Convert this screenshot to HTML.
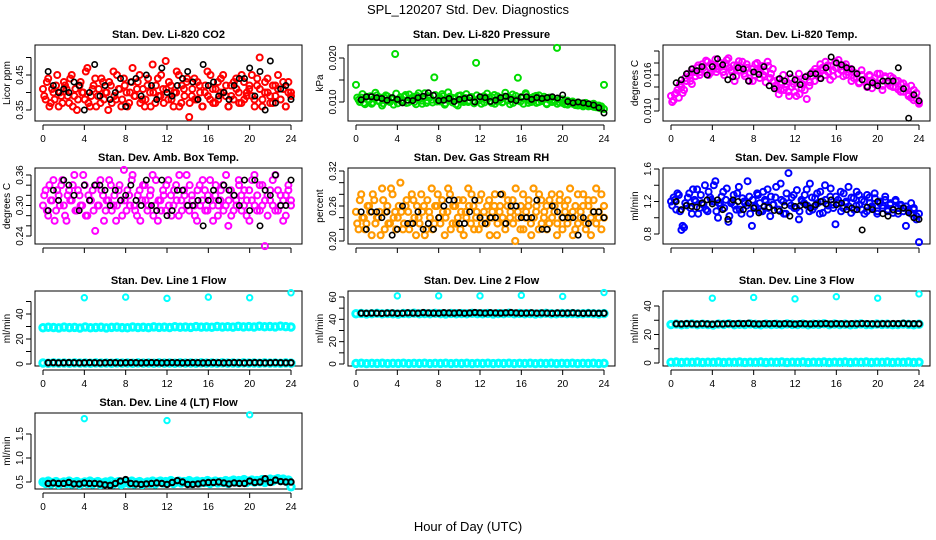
<!DOCTYPE html>
<html><head><meta charset="utf-8"><style>
body{margin:0;background:#fff}
svg{display:block;font-family:"Liberation Sans",sans-serif}
</style></head><body>
<svg id="c" width="936" height="540" viewBox="0 0 936 540">
<text x="468" y="14" text-anchor="middle" font-size="13">SPL_120207  Std. Dev. Diagnostics</text>
<text x="468" y="531" text-anchor="middle" font-size="13">Hour of Day (UTC)</text>
</svg>
<script>
const xTicks=[0,4,8,12,16,20,24];
const co2Red=[0.41,0.38,0.44,0.37,0.40,0.42,0.36,0.39,0.43,0.41,0.37,0.45,0.39,0.35,0.42,0.40,0.38,0.47,0.36,0.41,0.44,0.39,0.37,0.43,0.40,0.35,0.42,0.46,0.38,0.41,0.36,0.44,0.40,0.37,0.43,0.39,0.41,0.45,0.38,0.36,0.42,0.40,0.48,0.37,0.44,0.39,0.41,0.49,0.38,0.42,0.36,0.40,0.45,0.37,0.41,0.43,0.33,0.39,0.44,0.38,0.42,0.36,0.40,0.46,0.38,0.41,0.37,0.43,0.40,0.45,0.39,0.36,0.42,0.38,0.44,0.40,0.37,0.43,0.39,0.41,0.45,0.38,0.42,0.50,0.36,0.40,0.44,0.39,0.37,0.42,0.41,0.38,0.43,0.36,0.40,0.39];
const co2Red2=[0.39,0.43,0.36,0.41,0.38,0.45,0.40,0.37,0.42,0.39,0.44,0.36,0.41,0.38,0.43,0.40,0.46,0.37,0.39,0.42,0.36,0.41,0.44,0.38,0.40,0.43,0.37,0.39,0.45,0.41,0.38,0.42,0.36,0.40,0.47,0.39,0.43,0.37,0.41,0.38,0.44,0.36,0.40,0.42,0.39,0.45,0.37,0.41,0.43,0.38,0.40,0.46,0.36,0.42,0.39,0.44,0.37,0.41,0.38,0.43,0.40,0.36,0.42,0.39,0.45,0.37,0.41,0.38,0.44,0.40,0.42,0.36,0.39,0.43,0.41,0.37,0.45,0.38,0.40,0.42,0.39,0.36,0.44,0.41,0.38,0.43,0.40,0.37,0.42,0.39,0.45,0.38,0.41,0.36,0.43,0.40];
const co2Black=[0.46,0.42,0.40,0.41,0.40,0.43,0.42,0.35,0.40,0.48,0.39,0.42,0.38,0.40,0.44,0.36,0.43,0.44,0.39,0.45,0.42,0.38,0.47,0.40,0.39,0.42,0.44,0.46,0.43,0.38,0.48,0.42,0.43,0.39,0.40,0.38,0.42,0.44,0.44,0.47,0.39,0.46,0.35,0.49,0.37,0.41,0.42,0.38];
const presGreen=[0.0139,0.0105,0.0110,0.0098,0.0112,0.0104,0.0096,0.0108,0.0115,0.0101,0.0092,0.0109,0.0113,0.0100,0.0106,0.0209,0.0097,0.0111,0.0104,0.0116,0.0099,0.0107,0.0112,0.0095,0.0120,0.0103,0.0109,0.0098,0.0113,0.0105,0.0156,0.0101,0.0110,0.0118,0.0094,0.0106,0.0112,0.0099,0.0108,0.0092,0.0115,0.0104,0.0109,0.0100,0.0111,0.0103,0.0189,0.0107,0.0096,0.0113,0.0105,0.0110,0.0098,0.0116,0.0102,0.0108,0.0099,0.0112,0.0104,0.0095,0.0117,0.0106,0.0155,0.0101,0.0110,0.0120,0.0098,0.0109,0.0103,0.0114,0.0100,0.0107,0.0112,0.0097,0.0105,0.0110,0.0101,0.0223,0.0099,0.0106,0.0095,0.0103,0.0098,0.0101,0.0093,0.0099,0.0096,0.0090,0.0098,0.0094,0.0091,0.0096,0.0088,0.0092,0.0085,0.0139];
const presGreen2=[0.0110,0.0100,0.0118,0.0095,0.0106,0.0113,0.0099,0.0121,0.0103,0.0110,0.0097,0.0115,0.0104,0.0108,0.0094,0.0119,0.0106,0.0101,0.0112,0.0098,0.0117,0.0105,0.0100,0.0114,0.0107,0.0096,0.0120,0.0103,0.0110,0.0099,0.0116,0.0105,0.0101,0.0113,0.0097,0.0122,0.0104,0.0109,0.0095,0.0114,0.0106,0.0100,0.0118,0.0103,0.0111,0.0097,0.0115,0.0104,0.0108,0.0099,0.0119,0.0102,0.0110,0.0096,0.0113,0.0105,0.0100,0.0121,0.0104,0.0109,0.0098,0.0114,0.0103,0.0111,0.0096,0.0117,0.0105,0.0100,0.0112,0.0098,0.0115,0.0102,0.0107,0.0095,0.0110,0.0100,0.0104,0.0096,0.0106,0.0098,0.0102,0.0094,0.0100,0.0096,0.0098,0.0092,0.0097,0.0093,0.0095,0.0090,0.0094,0.0089,0.0092,0.0087,0.0090,0.0084];
const presBlack=[0.0105,0.0112,0.0112,0.0110,0.0108,0.0104,0.0110,0.0106,0.0098,0.0104,0.0103,0.0110,0.0113,0.0121,0.0115,0.0103,0.0104,0.0108,0.0101,0.0106,0.0108,0.0110,0.0100,0.0112,0.0110,0.0101,0.0104,0.0110,0.0113,0.0106,0.0103,0.0111,0.0112,0.0106,0.0110,0.0108,0.0110,0.0112,0.0109,0.0116,0.0101,0.0098,0.0100,0.0098,0.0096,0.0093,0.0087,0.0075];
const tempMag=[0.0125,0.0118,0.0130,0.0122,0.0140,0.0135,0.0150,0.0158,0.0145,0.0165,0.0172,0.0160,0.0178,0.0168,0.0182,0.0163,0.0175,0.0186,0.0170,0.0180,0.0165,0.0178,0.0188,0.0168,0.0176,0.0158,0.0183,0.0172,0.0162,0.0178,0.0150,0.0170,0.0160,0.0180,0.0155,0.0175,0.0166,0.0182,0.0155,0.0170,0.0142,0.0152,0.0135,0.0160,0.0140,0.0132,0.0155,0.0145,0.0125,0.0162,0.0138,0.0152,0.0120,0.0142,0.0158,0.0150,0.0165,0.0155,0.0172,0.0160,0.0176,0.0152,0.0168,0.0182,0.0162,0.0174,0.0158,0.0178,0.0165,0.0170,0.0155,0.0162,0.0146,0.0168,0.0150,0.0142,0.0160,0.0138,0.0155,0.0146,0.0162,0.0135,0.0158,0.0148,0.0142,0.0155,0.0140,0.0150,0.0132,0.0146,0.0138,0.0125,0.0142,0.0118,0.0130,0.0112];
const tempMag2=[0.0115,0.0128,0.0135,0.0145,0.0130,0.0155,0.0162,0.0150,0.0170,0.0158,0.0176,0.0165,0.0172,0.0184,0.0160,0.0178,0.0170,0.0165,0.0180,0.0174,0.0160,0.0185,0.0172,0.0165,0.0150,0.0176,0.0168,0.0182,0.0158,0.0172,0.0164,0.0150,0.0178,0.0165,0.0170,0.0160,0.0148,0.0175,0.0162,0.0150,0.0138,0.0128,0.0148,0.0135,0.0145,0.0125,0.0140,0.0132,0.0150,0.0128,0.0145,0.0135,0.0158,0.0148,0.0165,0.0170,0.0160,0.0178,0.0168,0.0182,0.0165,0.0175,0.0158,0.0172,0.0185,0.0168,0.0175,0.0160,0.0170,0.0150,0.0164,0.0156,0.0148,0.0160,0.0152,0.0140,0.0158,0.0150,0.0145,0.0162,0.0152,0.0142,0.0155,0.0146,0.0158,0.0140,0.0150,0.0136,0.0145,0.0132,0.0140,0.0128,0.0122,0.0135,0.0120,0.0115];
const tempBlack=[0.0147,0.0152,0.0162,0.0170,0.0167,0.0174,0.0160,0.0174,0.0187,0.0177,0.0152,0.0157,0.0172,0.0170,0.0150,0.0165,0.0161,0.0174,0.0142,0.0137,0.0154,0.0150,0.0162,0.0152,0.0144,0.0157,0.0162,0.0162,0.0154,0.0172,0.0190,0.0180,0.0177,0.0172,0.0170,0.0162,0.0152,0.0140,0.0147,0.0142,0.0150,0.0150,0.0150,0.0172,0.0137,0.0088,0.0127,0.0117];
const ambMag=[0.30,0.33,0.28,0.31,0.35,0.29,0.32,0.34,0.30,0.27,0.33,0.31,0.36,0.29,0.32,0.30,0.34,0.28,0.31,0.33,0.25,0.30,0.35,0.32,0.29,0.31,0.34,0.30,0.27,0.33,0.31,0.37,0.29,0.32,0.35,0.30,0.28,0.33,0.31,0.34,0.29,0.32,0.36,0.30,0.27,0.31,0.33,0.29,0.35,0.32,0.30,0.34,0.28,0.31,0.33,0.36,0.29,0.32,0.30,0.27,0.34,0.31,0.33,0.29,0.35,0.30,0.32,0.28,0.31,0.34,0.30,0.26,0.33,0.29,0.31,0.35,0.32,0.30,0.28,0.33,0.31,0.36,0.29,0.34,0.30,0.22,0.32,0.31,0.35,0.29,0.33,0.30,0.27,0.32,0.34,0.30];
const ambMag2=[0.32,0.29,0.34,0.31,0.27,0.33,0.30,0.35,0.28,0.32,0.31,0.34,0.29,0.33,0.30,0.36,0.28,0.32,0.31,0.29,0.34,0.30,0.33,0.27,0.31,0.35,0.29,0.32,0.30,0.34,0.28,0.31,0.33,0.30,0.36,0.29,0.32,0.27,0.34,0.31,0.30,0.33,0.28,0.35,0.31,0.29,0.32,0.34,0.30,0.28,0.33,0.31,0.36,0.29,0.32,0.30,0.34,0.31,0.28,0.33,0.30,0.35,0.29,0.32,0.31,0.27,0.34,0.30,0.33,0.29,0.36,0.31,0.28,0.32,0.30,0.34,0.29,0.33,0.31,0.27,0.35,0.30,0.32,0.29,0.34,0.31,0.28,0.33,0.30,0.36,0.29,0.32,0.31,0.28,0.33,0.31];
const ambBlack=[0.29,0.33,0.31,0.35,0.34,0.32,0.29,0.34,0.31,0.34,0.34,0.33,0.30,0.33,0.31,0.32,0.34,0.31,0.30,0.35,0.30,0.29,0.35,0.28,0.29,0.33,0.33,0.30,0.30,0.31,0.26,0.31,0.33,0.31,0.34,0.33,0.32,0.30,0.35,0.29,0.35,0.26,0.33,0.32,0.36,0.30,0.30,0.35];
const rhOrange=[0.25,0.22,0.28,0.24,0.23,0.26,0.21,0.27,0.24,0.25,0.29,0.22,0.26,0.23,0.28,0.25,0.24,0.30,0.22,0.26,0.25,0.23,0.27,0.21,0.24,0.28,0.26,0.22,0.25,0.29,0.23,0.26,0.24,0.27,0.21,0.25,0.28,0.23,0.26,0.24,0.22,0.27,0.25,0.29,0.23,0.26,0.24,0.22,0.28,0.25,0.23,0.27,0.24,0.26,0.21,0.25,0.28,0.23,0.26,0.24,0.27,0.20,0.25,0.22,0.28,0.24,0.26,0.23,0.29,0.25,0.22,0.27,0.24,0.26,0.23,0.28,0.25,0.21,0.27,0.24,0.26,0.23,0.29,0.25,0.22,0.28,0.24,0.26,0.23,0.27,0.21,0.25,0.29,0.24,0.22,0.26];
const rhOrange2=[0.23,0.27,0.24,0.22,0.26,0.25,0.28,0.23,0.24,0.21,0.27,0.25,0.23,0.29,0.24,0.22,0.26,0.25,0.23,0.27,0.22,0.28,0.24,0.26,0.23,0.25,0.21,0.27,0.24,0.22,0.26,0.28,0.23,0.25,0.24,0.29,0.22,0.26,0.23,0.27,0.25,0.21,0.24,0.26,0.28,0.22,0.25,0.27,0.23,0.24,0.26,0.21,0.25,0.28,0.23,0.26,0.24,0.22,0.27,0.25,0.23,0.29,0.24,0.26,0.22,0.25,0.27,0.21,0.24,0.26,0.28,0.23,0.25,0.22,0.27,0.24,0.26,0.23,0.28,0.22,0.25,0.27,0.24,0.21,0.26,0.23,0.25,0.28,0.22,0.26,0.24,0.27,0.23,0.25,0.28,0.24];
const rhBlack=[0.25,0.22,0.25,0.25,0.24,0.25,0.21,0.22,0.26,0.23,0.23,0.25,0.22,0.23,0.22,0.24,0.26,0.27,0.27,0.23,0.23,0.25,0.27,0.24,0.23,0.24,0.24,0.28,0.23,0.26,0.26,0.24,0.24,0.24,0.27,0.22,0.22,0.26,0.25,0.24,0.24,0.24,0.21,0.24,0.23,0.25,0.25,0.24];
const flowBlue=[1.20,1.25,1.10,1.28,0.85,0.88,1.15,1.30,1.05,1.22,1.35,1.12,1.18,1.40,1.08,1.25,1.20,1.45,1.00,1.15,1.32,1.22,0.95,1.18,1.28,1.10,1.38,1.05,1.20,1.15,1.26,0.90,1.12,1.30,1.18,1.08,1.22,1.35,1.02,1.16,1.25,1.10,1.42,1.20,1.05,1.55,1.15,1.28,1.12,0.98,1.22,1.18,1.35,1.08,1.25,1.14,1.30,1.05,1.20,1.40,1.10,1.26,1.16,0.92,1.22,1.32,1.12,1.18,1.38,1.06,1.24,1.15,1.28,1.10,1.20,1.08,1.25,1.14,1.30,1.05,1.18,1.12,1.22,1.08,1.16,1.10,1.20,1.05,1.15,1.12,0.90,1.08,1.18,1.10,1.02,0.70];
const flowBlue2=[1.15,1.22,1.30,1.08,0.90,1.18,1.25,1.12,1.35,1.20,1.05,1.28,1.16,1.10,1.32,1.22,1.40,1.08,1.18,1.26,1.12,1.36,1.02,1.20,1.15,1.30,1.10,1.24,1.18,1.45,1.05,1.22,1.14,1.28,1.08,1.32,1.20,1.12,1.26,1.16,1.38,1.10,1.22,1.05,1.30,1.18,1.25,1.12,1.34,1.08,1.20,1.28,1.15,1.42,1.10,1.24,1.18,1.32,1.06,1.22,1.15,1.36,1.12,1.26,1.18,1.08,1.30,1.20,1.14,1.25,1.10,1.32,1.16,1.22,1.05,1.28,1.18,1.12,1.24,1.08,1.20,1.15,1.26,1.10,1.18,1.06,1.22,1.12,1.16,1.08,1.14,1.10,1.05,1.12,0.98,1.05];
const flowBlack=[1.20,1.10,1.15,1.14,1.13,1.18,1.22,1.17,1.22,1.10,0.98,1.22,1.20,1.10,1.18,1.12,1.06,1.14,1.13,1.09,1.08,1.15,1.02,1.14,1.15,1.16,1.12,1.16,1.20,1.17,1.22,1.16,1.18,1.10,1.12,1.10,0.85,1.13,1.10,1.20,1.05,1.02,1.10,1.08,1.12,1.06,1.00,0.98];
const line1High=[29.0,29.4,29.2,28.9,29.5,29.1,29.3,28.8,29.6,29.0,29.2,29.4,28.9,29.3,29.5,29.1,29.0,29.6,29.2,29.4,29.1,29.7,29.3,29.5,29.2,29.8,29.4,29.6,29.3,29.9,29.5,29.7,29.4,30.0,29.6,29.8,29.5,30.1,29.7,29.9,29.6,30.2,29.8,30.0,29.7,30.3,29.9,29.6];
const line1Low=[0.8,0.6,0.9,0.7,0.8,0.6,0.9,0.7,0.8,0.6,0.9,0.7,0.8,0.6,0.9,0.7,0.8,0.6,0.9,0.7,0.8,0.6,0.9,0.7,0.8,0.6,0.9,0.7,0.8,0.6,0.9,0.7,0.8,0.6,0.9,0.7,0.8,0.6,0.9,0.7,0.8,0.6,0.9,0.7,0.8,0.6,0.9,0.7];
const line1Black=[1.0,1.1,0.9,1.0,1.1,1.0,0.9,1.0,1.1,1.0,0.9,1.0,1.1,1.0,0.9,1.0,1.1,1.0,0.9,1.0,1.1,1.0,0.9,1.0,1.1,1.0,0.9,1.0,1.1,1.0,0.9,1.0,1.1,1.0,0.9,1.0,1.1,1.0,0.9,1.0,1.1,1.0,0.9,1.0,1.1,1.0,0.9,1.0];
const line2High=[45.0,45.3,44.8,45.1,45.4,44.9,45.2,45.0,44.7,45.3,45.1,45.5,44.9,45.2,45.0,45.4,45.1,44.8,45.3,45.0,45.2,44.9,45.4,45.1,45.0,45.3,44.8,45.2,45.1,45.5,44.9,45.3,45.0,45.2,44.8,45.1,45.4,45.0,44.9,45.3,45.1,45.2,44.9,45.0,45.3,45.1,44.8,45.2];
const line2Low=[0.5,0.7,0.4,0.6,0.5,0.7,0.4,0.6,0.5,0.7,0.4,0.6,0.5,0.7,0.4,0.6,0.5,0.7,0.4,0.6,0.5,0.7,0.4,0.6,0.5,0.7,0.4,0.6,0.5,0.7,0.4,0.6,0.5,0.7,0.4,0.6,0.5,0.7,0.4,0.6,0.5,0.7,0.4,0.6,0.5,0.7,0.4,0.6];
const line2Black=[45.5,45.4,45.6,45.5,45.3,45.6,45.7,45.4,45.5,45.8,45.6,45.5,46.0,45.7,45.6,45.5,45.9,45.7,45.6,45.8,45.5,45.7,46.1,45.8,45.6,45.9,45.7,45.6,45.8,46.0,45.7,45.5,45.6,45.8,45.5,45.7,45.6,45.4,45.7,45.5,45.6,45.8,45.5,45.4,45.6,45.5,45.4,45.5];
const line3High=[27.0,27.3,26.8,27.1,27.4,26.9,27.2,27.0,26.7,27.3,27.1,27.5,26.9,27.2,27.0,27.4,27.1,26.8,27.3,27.0,27.2,26.9,27.4,27.1,27.0,27.3,26.8,27.2,27.1,27.5,26.9,27.3,27.0,27.2,26.8,27.1,27.4,27.0,26.9,27.3,27.1,27.2,26.9,27.0,27.3,27.1,26.8,27.2];
const line3Low=[0.5,0.7,0.4,0.6,0.5,0.7,0.4,0.6,0.5,0.7,0.4,0.6,0.5,0.7,0.4,0.6,0.5,0.7,0.4,0.6,0.5,0.7,0.4,0.6,0.5,0.7,0.4,0.6,0.5,0.7,0.4,0.6,0.5,0.7,0.4,0.6,0.5,0.7,0.4,0.6,0.5,0.7,0.4,0.6,0.5,0.7,0.4,0.6];
const line3Black=[27.5,27.4,27.6,27.5,27.3,27.6,27.4,27.2,27.5,27.4,27.6,27.5,27.7,27.6,27.8,27.5,27.4,27.6,27.5,27.7,27.4,27.6,27.5,27.3,27.6,27.5,27.4,27.6,27.5,27.7,27.4,27.6,27.5,27.4,27.6,27.5,27.7,27.6,27.5,27.4,27.6,27.5,27.7,27.6,27.8,27.5,27.6,27.5];
const line4Cyan=[0.50,0.47,0.52,0.46,0.49,0.51,0.45,0.48,0.50,0.47,0.52,0.46,0.49,0.51,0.45,0.48,0.50,0.47,0.52,0.46,0.49,0.51,0.45,0.48,0.50,0.47,0.52,0.46,0.49,0.51,0.45,0.48,0.50,0.47,0.52,0.46,0.49,0.51,0.45,0.48,0.50,0.47,0.52,0.46,0.50,0.52,0.48,0.51,0.49,0.53,0.47,0.50,0.52,0.48,0.51,0.49,0.53,0.47,0.50,0.52,0.48,0.51,0.49,0.53,0.47,0.50,0.52,0.48,0.51,0.49,0.53,0.47,0.52,0.54,0.50,0.53,0.51,0.55,0.49,0.52,0.54,0.50,0.53,0.51,0.55,0.49,0.53,0.56,0.52,0.55,0.57,0.53,0.56,0.52,0.54,0.40];
const line4Black=[0.47,0.48,0.47,0.47,0.49,0.46,0.46,0.48,0.47,0.47,0.46,0.44,0.43,0.47,0.52,0.55,0.47,0.46,0.45,0.46,0.47,0.48,0.47,0.45,0.49,0.53,0.50,0.45,0.45,0.46,0.48,0.49,0.49,0.50,0.48,0.46,0.48,0.47,0.47,0.52,0.49,0.50,0.57,0.49,0.54,0.51,0.50,0.50];
const outlierHours=[4,8,12,16,20,24];
const line1Out=[53,53.5,52.5,53.5,53,57];
const line2Out=[61,61,61,61.5,60.5,64];
const line3Out=[45.5,46,45,46.5,45.5,48.5];
const line4OutHours=[4,12,20];
const line4Out=[1.82,1.78,1.90];

const NS="http://www.w3.org/2000/svg";
const svg=document.getElementById('c');
function mk(tag,attrs,parent){const e=document.createElementNS(NS,tag);for(const k in attrs)e.setAttribute(k,attrs[k]);(parent||svg).appendChild(e);return e;}
const cols=[35,348,663], rows=[45,168,291,413], W=267;
function panel(o){
  const bx=cols[o.c], by=rows[o.r], bh=(o.r===2?75:76);
  const g=mk('g',{});
  
  
  const sx=h=>bx+8+h*(248/24);
  const sy=v=>o.y1+(v-o.v1)*(o.y2-o.y1)/(o.v2-o.v1);
  const t=mk('text',{x:bx+W/2,y:by-7,'text-anchor':'middle','font-size':'11','font-weight':'bold'},g);
  t.textContent=o.title;
  
  
  const fr=mk('rect',{x:bx,y:by,width:W,height:bh,fill:'none',stroke:'#000','stroke-width':1},g);
  
  
  mk('line',{x1:sx(0),x2:sx(24),y1:by+bh+4,y2:by+bh+4,stroke:'#000'},g);
  xTicks.forEach(h=>{
    mk('line',{x1:sx(h),x2:sx(h),y1:by+bh+4,y2:by+bh+9,stroke:'#000'},g);
    if(o.xlab){
      const l=mk('text',{x:sx(h),y:by+bh+21,'text-anchor':'middle','font-size':'10'},g);
      l.textContent=h;
      
      
    }
  });
  const yt=o.ticks.filter(v=>sy(v)>=by-1&&sy(v)<=by+bh+1);
  mk('line',{x1:bx-4,x2:bx-4,y1:sy(yt[0]),y2:sy(yt[yt.length-1]),stroke:'#000'},g);
  yt.forEach(v=>mk('line',{x1:bx-9,x2:bx-4,y1:sy(v),y2:sy(v),stroke:'#000'},g));
  o.labels.forEach(v=>{
    const y=sy(v);
    const l=mk('text',{x:bx-12,y:y,'text-anchor':'middle','font-size':'10',transform:`rotate(-90 ${bx-12} ${y})`},g);
    l.textContent=o.fmt(v);
    
    
  });
  const yl=by+bh/2;
  const ylab=mk('text',{x:bx-25,y:yl,'text-anchor':'middle','font-size':'10',transform:`rotate(-90 ${bx-25} ${yl})`},g);
  ylab.textContent=o.ylab;
  
  
  o.series.forEach(s=>{
    const sg=mk('g',{fill:'none',stroke:s.color,'stroke-width':s.sw||1.6},g);
    
    
    s.vals.forEach((v,i)=>{
      const h=s.hours?s.hours[i]:(s.start+i*(24-s.start)/(s.vals.length-1));
      const c=mk('circle',{cx:sx(h),cy:sy(v),r:s.r||2.7},sg);
      
      
    });
  });
}
const f2=v=>v.toFixed(2), f3=v=>v.toFixed(3), f1=v=>v.toFixed(1), f0=v=>String(v);
const rng=(a,b,s)=>{const r=[];for(let v=a;v<=b+1e-9;v+=s)r.push(+v.toFixed(4));return r;};
panel({name:'panel-co2',c:0,r:0,title:'Stan. Dev. Li-820 CO2',ylab:'Licor ppm',v1:0.35,y1:110,v2:0.45,y2:75,ticks:rng(0.30,0.50,0.05),labels:[0.35,0.45],fmt:f2,xlab:true,
 series:[{name:'co2-red-series',vals:co2Red,color:'#f00',start:0,r:3,sw:2},{name:'co2-red-series-2',vals:co2Red2,color:'#f00',start:0.12,r:3,sw:2},{name:'co2-black-series',vals:co2Black,color:'#000',start:0.5}]});
panel({name:'panel-pressure',c:1,r:0,title:'Stan. Dev. Li-820 Pressure',ylab:'kPa',v1:0.010,y1:102,v2:0.020,y2:58,ticks:rng(0.005,0.025,0.005),labels:[0.010,0.020],fmt:f3,xlab:true,
 series:[{name:'pressure-green-series',vals:presGreen,color:'#0d0',start:0,r:3,sw:2},{name:'pressure-green-series-2',vals:presGreen2,color:'#0d0',start:0.12,r:3,sw:2},{name:'pressure-black-series',vals:presBlack,color:'#000',start:0.5}]});
panel({name:'panel-temp',c:2,r:0,title:'Stan. Dev. Li-820 Temp.',ylab:'degrees C',v1:0.010,y1:111,v2:0.016,y2:75,ticks:rng(0.008,0.022,0.002),labels:[0.010,0.016],fmt:f3,xlab:true,
 series:[{name:'temp-magenta-series',vals:tempMag,color:'#f0f',start:0,r:3,sw:2},{name:'temp-magenta-series-2',vals:tempMag2,color:'#f0f',start:0.12,r:3,sw:2},{name:'temp-black-series',vals:tempBlack,color:'#000',start:0.5}]});
panel({name:'panel-amb-box-temp',c:0,r:1,title:'Stan. Dev. Amb. Box Temp.',ylab:'degrees C',v1:0.24,y1:236,v2:0.36,y2:175,ticks:rng(0.24,0.36,0.02),labels:[0.24,0.30,0.36],fmt:f2,xlab:false,
 series:[{name:'amb-magenta-series',vals:ambMag,color:'#f0f',start:0,r:3,sw:2},{name:'amb-magenta-series-2',vals:ambMag2,color:'#f0f',start:0.12,r:3,sw:2},{name:'amb-black-series',vals:ambBlack,color:'#000',start:0.5}]});
panel({name:'panel-rh',c:1,r:1,title:'Stan. Dev. Gas Stream RH',ylab:'percent',v1:0.20,y1:241,v2:0.32,y2:171,ticks:rng(0.20,0.32,0.02),labels:[0.20,0.26,0.32],fmt:f2,xlab:false,
 series:[{name:'rh-orange-series',vals:rhOrange,color:'#f90',start:0,r:3,sw:2.2},{name:'rh-orange-series-2',vals:rhOrange2,color:'#f90',start:0.12,r:3,sw:2.2},{name:'rh-black-series',vals:rhBlack,color:'#000',start:0.5}]});
panel({name:'panel-sample-flow',c:2,r:1,title:'Stan. Dev. Sample Flow',ylab:'ml/min',v1:0.8,y1:234,v2:1.6,y2:169,ticks:rng(0.8,1.6,0.2),labels:[0.8,1.2,1.6],fmt:f1,xlab:false,
 series:[{name:'flow-blue-series',vals:flowBlue,color:'#00f',start:0,r:3,sw:2},{name:'flow-blue-series-2',vals:flowBlue2,color:'#00f',start:0.12,r:3,sw:2},{name:'flow-black-series',vals:flowBlack,color:'#000',start:0.5}]});
panel({name:'panel-line1',c:0,r:2,title:'Stan. Dev. Line 1 Flow',ylab:'ml/min',v1:0,y1:364,v2:40,y2:314,ticks:rng(0,50,10),labels:[0,20,40],fmt:f0,xlab:true,
 series:[{name:'line1-cyan-high',vals:line1High,color:'#0ff',start:0,r:3.2,sw:3},{name:'line1-cyan-low',vals:line1Low,color:'#0ff',start:0,r:3.2,sw:3},{name:'line1-black-series',vals:line1Black,color:'#000',start:0.5,sw:2},{name:'line1-outliers',vals:line1Out,hours:outlierHours,color:'#0ff',sw:2}]});
panel({name:'panel-line2',c:1,r:2,title:'Stan. Dev. Line 2 Flow',ylab:'ml/min',v1:0,y1:364,v2:60,y2:297,ticks:rng(0,60,10),labels:[0,20,40,60],fmt:f0,xlab:true,
 series:[{name:'line2-cyan-high',vals:line2High,color:'#0ff',start:0,r:3.2,sw:3},{name:'line2-cyan-low',vals:line2Low,color:'#0ff',start:0,r:3.2,sw:3},{name:'line2-black-series',vals:line2Black,color:'#000',start:0.5,sw:2},{name:'line2-outliers',vals:line2Out,hours:outlierHours,color:'#0ff',sw:2}]});
panel({name:'panel-line3',c:2,r:2,title:'Stan. Dev. Line 3 Flow',ylab:'ml/min',v1:0,y1:363,v2:40,y2:306,ticks:rng(0,40,10),labels:[0,20,40],fmt:f0,xlab:true,
 series:[{name:'line3-cyan-high',vals:line3High,color:'#0ff',start:0,r:3.2,sw:3},{name:'line3-cyan-low',vals:line3Low,color:'#0ff',start:0,r:3.2,sw:3},{name:'line3-black-series',vals:line3Black,color:'#000',start:0.5,sw:2},{name:'line3-outliers',vals:line3Out,hours:outlierHours,color:'#0ff',sw:2}]});
panel({name:'panel-line4',c:0,r:3,title:'Stan. Dev. Line 4 (LT) Flow',ylab:'ml/min',v1:0.5,y1:482,v2:1.5,y2:434,ticks:[0.5,1.0,1.5],labels:[0.5,1.0,1.5],fmt:f1,xlab:true,
 series:[{name:'line4-cyan-series',vals:line4Cyan,color:'#0ff',start:0,r:3.2,sw:3},{name:'line4-black-series',vals:line4Black,color:'#000',start:0.5,sw:2},{name:'line4-outliers',vals:line4Out,hours:line4OutHours,color:'#0ff',sw:2}]});
</script>
</body></html>
